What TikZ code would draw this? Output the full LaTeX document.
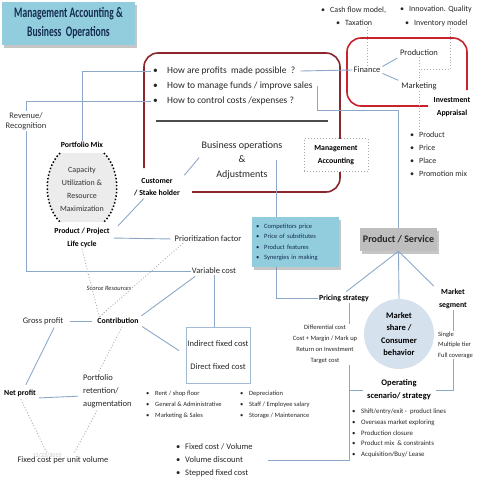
\documentclass[tikz,border=0pt]{standalone}
\usepackage{fontspec}
\setmainfont{Carlito}
\newfontfamily\titlefont[FakeStretch=0.66]{Carlito}
\usetikzlibrary{shadows,calc}
\definecolor{titleblue}{RGB}{146,205,222}
\definecolor{navy}{RGB}{20,45,80}
\definecolor{darkred}{RGB}{140,38,45}
\definecolor{brightred}{RGB}{200,35,45}
\definecolor{lineblue}{RGB}{140,168,200}
\definecolor{txt}{RGB}{38,38,38}
\definecolor{circfill}{RGB}{214,225,238}
\definecolor{capfill}{RGB}{236,236,236}
\definecolor{psgray}{RGB}{190,190,190}
\newcommand{\bul}[1][9pt]{\makebox[#1][l]{\textbullet}}
\begin{document}
\begin{tikzpicture}[x=1pt,y=-1pt,
  lbl/.style={font=\fontsize{8.5}{10}\selectfont, text=txt, inner sep=1pt, align=center},
  blbl/.style={font=\fontsize{7.8}{12.5}\selectfont\bfseries, text=black, inner sep=1pt, align=center},
  qst/.style={font=\fontsize{9.5}{11}\selectfont, text=txt, inner sep=1pt, anchor=west},
  sml/.style={font=\fontsize{8}{13}\selectfont, text=txt, inner sep=1pt, align=left},
  tiny/.style={font=\fontsize{6.5}{10.8}\selectfont, text=txt, inner sep=1pt, align=left},
  conn/.style={draw=lineblue, line width=0.9pt},
  dotc/.style={draw=gray!65, dotted, line width=0.9pt},
  shad/.style={drop shadow={opacity=0.45, shadow xshift=2pt, shadow yshift=-2.5pt}}
]
\useasboundingbox (0,0) rectangle (480,480);

% title
\node[fill=titleblue, shad, minimum width=133pt, minimum height=43pt, inner sep=0pt,
  font=\titlefont\bfseries\fontsize{14.5}{19}\selectfont, text=navy, align=center]
  (title) at (68.5,23.5) {Management Accounting \&\\Business\ \ Operations};

% frames
\draw[darkred, line width=1.6pt, rounded corners=14pt] (144,168) -- (144,53) -- (340,53) -- (340,192) -- (192,192);
\draw[brightred, line width=1.6pt, rounded corners=14pt] (428,106) -- (347,106) -- (347,38) -- (467,38) -- (467,90);
\draw[gray!60!black, line width=1.2pt] (156,121) -- (328,121);

% questions
\node[qst] (q1) at (152,71) {\bul[14pt]How are profits\ \ made possible\ \ ?};
\node[qst] (q2) at (152,86) {\bul[14pt]How to manage funds / improve sales};
\node[qst] (q3) at (152,101) {\bul[14pt]How to control costs /expenses ?};

% top lists
\node[sml, anchor=west] (cf) at (320,10) {\bul Cash flow model,};
\node[sml, anchor=west] (tax) at (335,23) {\bul Taxation};
\node[sml, anchor=west] (inn) at (399,9) {\bul Innovation. Quality};
\node[sml, anchor=west] (inv) at (404,23) {\bul Inventory model};

% finance group
\node[lbl] (fin) at (367,70) {Finance};
\node[lbl] (prod) at (419,53) {Production};
\node[lbl] (mkt) at (419,86) {Marketing};
\node[blbl] (ia) at (452,107) {Investment\\Appraisal};
\draw[conn, shorten <=1pt, shorten >=2pt] ([yshift=3pt]fin.east) -- (prod.south west);
\draw[conn, shorten <=1pt, shorten >=2pt] ([yshift=-3pt]fin.east) -- (mkt.north west);
\draw[dotc] (fin.north) -- (fin.north |- tax.south);
\draw[dotc] ([xshift=14pt]inv.south) |- ($(prod.south)!0.5!(mkt.north)$);
\draw[dotc] (prod.south) -- (mkt.north);
\node[sml, anchor=north west] (plist) at (409,131) {\bul Product\\ \bul Price\\ \bul Place\\ \bul Promotion mix};
\draw[dotc] (mkt.south) -- (mkt.south |- plist.north);

% question connectors
\draw[conn] ([xshift=4pt]q1.east) -- (fin.west);

% management accounting box
\node[draw=gray!70, dotted, line width=1pt, fill=white, minimum width=64pt, minimum height=33pt, blbl] (ma) at (336,155) {Management\\Accounting};

% business ops
\node[lbl, font=\fontsize{10}{14.5}\selectfont] (bo) at (242,160) {Business operations\\\&\\Adjustments};
\node[blbl] (cust) at (157,187) {Customer\\/ Stake holder};
\draw[conn, shorten <=2pt, shorten >=2pt] ([yshift=4pt]bo.west) -- ([xshift=2pt]cust.north east);

% left side
\node[blbl] (pm) at (82,145) {Portfolio Mix};
\fill[capfill] (60,153) -- (104,153) .. controls (121,170) and (121,205) .. (104,222) -- (60,222) .. controls (43,205) and (43,170) .. (60,153);
\draw[black, dotted, line width=1.5pt] (104,153) .. controls (121,170) and (121,205) .. (104,222);
\draw[black, dotted, line width=1.5pt] (60,153) .. controls (43,170) and (43,205) .. (60,222);
\node[lbl, text=gray!40!black, font=\fontsize{8}{13}\selectfont] (cap) at (82,189) {Capacity\\Utilization \&\\Resource\\Maximization};
\node[blbl] (lc) at (82,238) {Product / Project\\Life cycle};
\node[lbl] (pf) at (208,239) {Prioritization factor};
\node[lbl, text=gray!40!black] (rev) at (26,121) {Revenue/\\Recognition};
\node[lbl] (vc) at (214,271) {Variable cost};
\node[lbl, font=\fontsize{6.5}{8}\selectfont\itshape] (sr) at (109,288) {Scorce Resources};
\node[blbl] (con) at (118,321) {Contribution};
\node[lbl] (gp) at (43,321) {Gross profit};
\node[blbl] (np) at (20,393) {Net profit};
\node[lbl, anchor=west, align=left, font=\fontsize{8.5}{13}\selectfont] (prt) at (82,391) {Portfolio\\retention/\\augmentation};
\node[lbl] (fcpu) at (63,460) {Fixed cost per unit volume};
\node[lbl, text=gray!45, font=\fontsize{6}{7}\selectfont] (date) at (47,456) {12/23/2015};

\draw[conn] ([xshift=-1pt]q1.west) -| (pm.north);
\draw[conn] ([xshift=-1pt]q3.west) -| (rev.north);
\draw[conn] (rev.south) |- (vc.west);
\draw[conn, shorten <=2pt, shorten >=2pt] ([xshift=-12pt]cust.south) -- ([xshift=6pt]lc.north east);
\draw[conn, shorten <=3pt, shorten >=3pt] (lc.east) -- (pf.west);
\draw[dotc] (lc.south) -- ([xshift=3pt]con.north west);
\draw[dotc] ([xshift=-25pt]pf.south) -- ([xshift=3pt]con.north west);
\draw[conn, shorten <=6pt, shorten >=4pt] (gp.east) -- (con.west);
\draw[conn, shorten <=2pt, shorten >=4pt] ([xshift=12pt]gp.south) -- ([xshift=4pt]np.north);
\draw[conn, shorten <=2pt, shorten >=4pt] ([yshift=-5pt]np.east) -- ([yshift=-5pt]prt.west);
\draw[dotc, shorten <=2pt, shorten >=2pt] ([xshift=5pt]con.south) -- ([xshift=16pt]prt.north west);
\draw[dotc, shorten <=2pt, shorten >=2pt] ([xshift=16pt]prt.south west) -- ([xshift=10pt]fcpu.north);
\draw[dotc, shorten <=2pt, shorten >=2pt] (np.south) -- ([xshift=-15pt]fcpu.north);

% fixed costs
\node[draw=lineblue!80, line width=0.6pt, minimum width=64pt, minimum height=56pt, lbl, font=\fontsize{8.5}{23}\selectfont] (ifc) at (218,355) {Indirect fixed cost\\Direct fixed cost};
\draw[conn, shorten <=2pt, shorten >=2pt] ([xshift=6pt]vc.south west) -- (con.north east);
\draw[conn] (vc.south) -- (vc.south |- ifc.north);
\draw[conn, shorten <=3pt, shorten >=8pt] (con.south east) -- (ifc.west);
\node[tiny, anchor=west] (rl) at (145,405) {\bul Rent / shop floor\\ \bul General \& Administrative\\ \bul Marketing \& Sales};
\node[tiny, anchor=west] (dl) at (239,405) {\bul Depreciation\\ \bul Staff / Employee salary\\ \bul Storage / Maintenance};
\node[sml, anchor=west, font=\fontsize{8.5}{13}\selectfont] (fcv) at (175,460) {\bul Fixed cost / Volume\\ \bul Volume discount\\ \bul Stepped fixed cost};

% product / service side
\node[fill=psgray, shad, minimum width=77pt, minimum height=23pt, inner sep=0pt, font=\fontsize{10}{12}\selectfont\bfseries, text=black!85] (ps) at (398.5,239.5) {Product / Service};
\draw[conn] ([xshift=4pt]q2.east) |- (ps.north |- 0,110) -- (ps.north);
\node[blbl] (pr) at (344,298) {Pricing strategy};
\node[blbl] (ms) at (453,299) {Market\\segment};
\node[circle, fill=circfill, minimum size=70pt, inner sep=0pt, font=\fontsize{8.5}{12.4}\selectfont\bfseries, align=center] (msh) at (399,334) {Market\\share /\\Consumer\\behavior};
\draw[conn] (ps.south) -- (msh.north);
\draw[conn, shorten >=3pt] (ps.south) -- (pr.north);
\draw[conn, shorten >=3pt] (ps.south) -- ([xshift=-2pt]ms.north west);
\draw[conn] ([xshift=-7pt]bo.east) |- (pr.west);
\node[fill=titleblue, shad, anchor=north west, minimum width=87pt, minimum height=50pt, text width=79pt, inner sep=4pt, align=left, font=\fontsize{6.5}{10.5}\selectfont, text=navy] (cbox) at (252,217) {\bul[8pt]Competitors price\\ \bul[8pt]Price of substitutes\\ \bul[8pt]Product features\\ \bul[8pt]Synergies in making};

\node[blbl, font=\fontsize{8.5}{13}\selectfont\bfseries] (op) at (399,390) {Operating\\scenario/ strategy};
\draw[conn] ([xshift=5pt]pr.south) |- ([xshift=14pt]fcv.east);
\draw[conn, shorten >=3pt] ([xshift=5pt]pr.south |- op.west) -- (op.west);
\draw[conn] (ms.south) |- ([xshift=4pt]op.east);
\node[lbl, fill=white, font=\fontsize{6.5}{11}\selectfont] (diff) at (325,344.5) {Differential cost\\Cost + Margin / Mark up\\Return on Investment\\Target cost};
\node[lbl, fill=white, anchor=west, align=left, font=\fontsize{6.5}{10.5}\selectfont] (sing) at (437,345) {Single\\Multiple tier\\Full coverage};
\node[tiny, anchor=north west, font=\fontsize{6.8}{10.6}\selectfont] (oplist) at (351,408) {\bul Shift/entry/exit -\ \ product lines\\ \bul Overseas market exploring\\ \bul Production closure\\ \bul Product mix\ \ \& constraints\\ \bul Acquisition/Buy/ Lease};
\end{tikzpicture}
\end{document}
